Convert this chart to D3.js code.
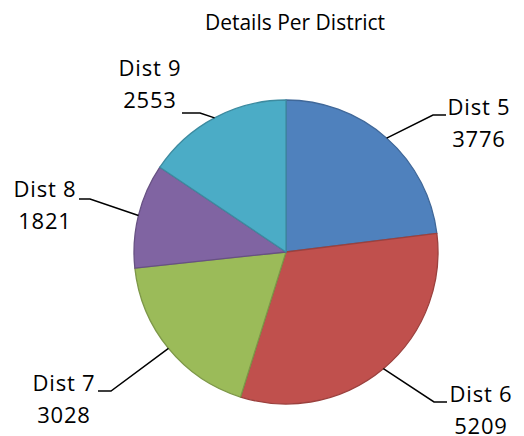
<!DOCTYPE html>
<html>
<head>
<meta charset="utf-8">
<script src="https://cdn.jsdelivr.net/npm/d3@7"></script>
<style>
  body { margin: 0; background: #fff; }
  text { fill: #000; }
</style>
</head>
<body>
<div id="chart"></div>
<script>
// chart data
const districts = ["Dist 5", "Dist 6", "Dist 7", "Dist 8", "Dist 9"];
const counts = [3776, 5209, 3028, 1821, 2553];
const sliceColors = ["#4f81bd", "#c0504d", "#9bbb59", "#8064a2", "#4bacc6"];
const title = "Details Per District";

// label layout, relative to pie centre: elbow, end of the short tick, text centre/baseline
const labelLayout = [
  { elbow: [147, -137], end: [160, -137], text: [193, -137] },
  { elbow: [148, 150], end: [161, 150], text: [195, 150] },
  { elbow: [-175, 139], end: [-188, 139], text: [-222, 139] },
  { elbow: [-196, -53], end: [-207, -53], text: [-241, -55] },
  { elbow: [-86, -139], end: [-104, -139], text: [-136, -176] }
];

const width = 524, height = 436;
const cx = 286, cy = 252, radius = 152;

const svg = d3.select("#chart")
  .append("svg")
  .attr("width", width)
  .attr("height", height);

svg.append("text")
  .attr("x", 295)
  .attr("y", 30)
  .attr("text-anchor", "middle")
  .style("font-family", "'Open Sans', sans-serif")
  .style("font-size", "21px")
  .text(title);

const data = districts.map((d, i) => ({ name: d, value: counts[i], i: i }));

const pie = d3.pie()
  .value(d => d.value)
  .sort(null);

const arc = d3.arc()
  .innerRadius(0)
  .outerRadius(radius);

const g = svg.append("g")
  .attr("transform", "translate(" + cx + "," + cy + ")");

const arcs = pie(data);

g.selectAll("path.slice")
  .data(arcs)
  .enter()
  .append("path")
  .attr("class", "slice")
  .attr("d", arc)
  .attr("fill", d => sliceColors[d.data.i])
  .attr("stroke", d => d3.color(sliceColors[d.data.i]).darker(0.6))
  .attr("stroke-width", 1.3)
  .attr("stroke-linejoin", "round");

// leader lines + labels
arcs.forEach(d => {
  const mid = (d.startAngle + d.endAngle) / 2;
  const start = [radius * Math.sin(mid), -radius * Math.cos(mid)];
  const L = labelLayout[d.data.i];
  g.append("polyline")
    .attr("points", [start, L.elbow, L.end].map(p => p.join(",")).join(" "))
    .attr("fill", "none")
    .attr("stroke", "#000")
    .attr("stroke-width", 1.5);

  const t = g.append("text")
    .attr("text-anchor", "middle")
    .style("font-family", "'Open Sans', sans-serif")
    .style("font-size", "22px")
    .style("letter-spacing", "0.8px");
  t.append("tspan").attr("x", L.text[0]).attr("y", L.text[1]).text(d.data.name);
  t.append("tspan").attr("x", L.text[0]).attr("y", L.text[1] + 32).text(d.data.value);
});
</script>
</body>
</html>
